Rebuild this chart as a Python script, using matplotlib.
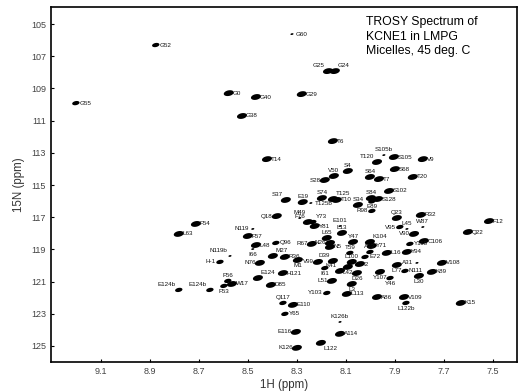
import numpy as np
import matplotlib.pyplot as plt
from matplotlib.path import Path

plt.rcParams['font.family'] = ['Liberation Sans', 'DejaVu Sans']

# assigned cross peaks
labels = ['G52', 'G55', 'G0', 'G40', 'G38', 'G60', 'G25', 'G24', 'G29', 'T14',
          'T6', 'S105b', 'S105', 'T120', 'S68', 'V9', 'T20', 'S4', 'S64', 'T7',
          'V50', 'S28', 'S102', 'S37', 'Q18', 'M49', 'E19', 'S74', 'T125', 'T10',
          'T125b', 'S34', 'S84', 'S128', 'E89', 'R98', 'Q23', 'R32', 'F12', 'Q22',
          'F54', 'L63', 'F57', 'N119', 'L48', 'Q96', 'I66', 'M27', 'R36', 'N119b',
          'H-1', 'N76', 'E124', 'H121', 'F56', 'W17', 'F53', 'E124b', 'E124b', 'D85',
          'Q117', 'E110', 'Y65', 'E116', 'K126', 'L122', 'K126b', 'A114', 'Y103', 'L113',
          'A86', 'V109', 'L122b', 'K15', 'V108', 'K89', 'L30', 'Y94', 'C106', 'V90',
          'W87', 'L45', 'V95', 'A31', 'N111', 'Y115',
          'F76', 'Y73', 'Y81', 'E101', 'L13', 'L65', 'N26', 'R67', 'Y47', 'K104',
          'Y71', 'N5', 'T59', 'A93', 'L16', 'D39', 'L100', 'I2', 'L42', 'K41',
          'E72', 'D26', 'Y107', 'L77', 'V99', 'M1', 'I61', 'L51', 'L3', 'Y46']
h_ppm = [8.876, 9.202, 8.578, 8.467, 8.524, 8.320, 8.173, 8.145, 8.280, 8.422,
         8.153, 7.945, 7.904, 7.973, 7.900, 7.786, 7.827, 8.092, 8.002, 7.965,
         8.149, 8.186, 7.924, 8.345, 8.382, 8.288, 8.276, 8.198, 8.153, 8.137,
         8.243, 8.051, 7.998, 7.969, 7.994, 7.994, 7.892, 7.794, 7.516, 7.602,
         8.712, 8.782, 8.500, 8.480, 8.467, 8.386, 8.480, 8.398, 8.349, 8.573,
         8.614, 8.451, 8.459, 8.357, 8.582, 8.565, 8.598, 8.655, 8.782, 8.406,
         8.357, 8.316, 8.349, 8.304, 8.300, 8.202, 8.124, 8.124, 8.178, 8.096,
         7.973, 7.863, 7.855, 7.631, 7.708, 7.749, 7.802, 7.851, 7.782, 7.822,
         7.786, 7.851, 7.880, 7.810, 7.859, 7.839,
         8.255, 8.235, 8.227, 8.124, 8.116, 8.178, 8.165, 8.239, 8.071, 8.002,
         7.994, 8.165, 8.084, 8.002, 7.933, 8.153, 8.076, 8.043, 8.092, 8.124,
         8.022, 8.055, 7.961, 7.892, 8.214, 8.296, 8.186, 8.157, 8.076, 7.920]
n_ppm = [106.30, 109.91, 109.29, 109.53, 110.71, 105.62, 107.92, 107.92, 109.35, 113.39,
         112.27, 113.14, 113.26, 113.57, 114.01, 113.39, 114.50, 114.13, 114.50, 114.63,
         114.44, 114.69, 115.37, 115.93, 116.93, 117.05, 116.06, 115.81, 115.87, 115.93,
         116.12, 116.24, 115.81, 115.87, 116.02, 116.61, 117.05, 116.86, 117.24, 117.92,
         117.42, 118.04, 118.17, 117.73, 118.73, 118.60, 118.98, 119.41, 119.47, 119.41,
         119.78, 119.84, 120.78, 120.47, 120.96, 121.15, 121.27, 121.52, 121.52, 121.21,
         122.33, 122.45, 123.01, 124.13, 125.12, 124.81, 123.51, 124.25, 121.71, 121.77,
         121.96, 121.96, 122.33, 122.33, 119.84, 120.40, 120.65, 119.16, 118.48, 118.04,
         117.61, 117.73, 117.61, 119.84, 120.34, 118.66,
         117.30, 117.30, 117.55, 117.55, 117.98, 118.29, 118.60, 118.66, 118.54, 118.54,
         118.79, 118.85, 119.22, 119.16, 119.22, 119.72, 119.78, 119.91, 120.09, 120.34,
         119.47, 120.47, 120.40, 119.97, 119.78, 119.66, 120.16, 120.96, 121.15, 120.78]
# peak intensity class: 0 weak, 1 medium, 2 strong
strength = [1, 1, 2, 2, 2, 0, 2, 2, 2, 2,
            2, 0, 2, 2, 2, 2, 2, 2, 2, 2,
            2, 2, 2, 2, 2, 0, 2, 2, 2, 2,
            0, 2, 2, 2, 1, 1, 2, 2, 2, 2,
            2, 2, 2, 0, 2, 1, 0, 2, 2, 0,
            1, 2, 2, 2, 1, 2, 1, 1, 1, 2,
            1, 2, 1, 2, 2, 2, 0, 2, 1, 2,
            2, 2, 1, 2, 2, 2, 2, 2, 2, 2,
            0, 0, 1, 0, 1, 1,
            2, 1, 2, 0, 2, 2, 2, 2, 2, 2,
            2, 2, 1, 1, 2, 2, 2, 2, 2, 2,
            1, 2, 2, 2, 2, 2, 1, 2, 2, 1]

# where each label sits relative to its peak
side = ['r', 'r', 'r', 'r', 'r', 'r', 'al', 'ar', 'r', 'r',
        'r', 'a', 'r', 'al', 'r', 'r', 'r', 'a', 'a', 'r',
        'a', 'l', 'r', 'al', 'l', 'a', 'a', 'a', 'ar', 'r',
        'r', 'a', 'a', 'r', 'b', 'l', 'a', 'r', 'r', 'r',
        'r', 'r', 'r', 'l', 'r', 'r', 'b', 'ar', 'r', 'al',
        'l', 'l', 'ar', 'r', 'a', 'r', 'b', 'al', 'al', 'r',
        'a', 'r', 'r', 'l', 'l', 'br', 'a', 'r', 'l', 'r',
        'r', 'r', 'b', 'r', 'r', 'r', 'b', 'r', 'r', 'l',
        'a', 'a', 'l', 'l', 'r', 'r',
        'al', 'ar', 'r', 'a', 'a', 'a', 'l', 'l', 'a', 'ar',
        'r', 'r', 'a', 'a', 'r', 'al', 'a', 'r', 'b', 'al',
        'r', 'b', 'b', 'b', 'l', 'b', 'b', 'l', 'b', 'b']

# flattened, slightly tilted ellipse used as peak marker
t = np.linspace(0, 2 * np.pi, 40)
a = np.deg2rad(12)
ex, ey = np.cos(t), 0.55 * np.sin(t)
verts = np.column_stack([ex * np.cos(a) - ey * np.sin(a), ex * np.sin(a) + ey * np.cos(a)])
peak_marker = Path(verts, closed=True)

fig = plt.figure(figsize=(5.19, 3.92), dpi=100)
ax = fig.add_axes([0.098, 0.0765, 0.898, 0.9055])

sizes = np.array([5, 28, 52])[np.array(strength)]
ax.scatter(h_ppm, n_ppm, s=sizes, marker=peak_marker, color='black', linewidths=0, zorder=3)

offs = {'r': (4, 0, 'left', 'center'), 'l': (-4, 0, 'right', 'center'),
        'a': (0, 3, 'center', 'bottom'), 'b': (0, -3, 'center', 'top'),
        'ar': (3, 3, 'left', 'bottom'), 'al': (-3, 3, 'right', 'bottom'),
        'br': (3, -3, 'left', 'top')}
for lab, x, y, sd in zip(labels, h_ppm, n_ppm, side):
    dx, dy, ha, va = offs[sd]
    ax.annotate(lab, (x, y), xytext=(dx * 0.72, dy * 0.72), textcoords='offset points',
                ha=ha, va=va, fontsize=4.5, color='#111111', zorder=4)

ax.set_xlim(9.304, 7.402)
ax.set_ylim(126.0, 103.94)
ax.set_xticks([9.1, 8.9, 8.7, 8.5, 8.3, 8.1, 7.9, 7.7, 7.5])
ax.set_yticks([105, 107, 109, 111, 113, 115, 117, 119, 121, 123, 125])
ax.tick_params(direction='in', length=2.5, width=0.8, labelsize=6.5, labelcolor='#444444')
ax.set_xlabel('1H (ppm)', fontsize=8.3, color='#333333', labelpad=2)
ax.set_ylabel('15N (ppm)', fontsize=8.3, color='#333333', labelpad=4)
for sp in ax.spines.values():
    sp.set_linewidth(1.2)

ax.text(0.676, 0.975, 'TROSY Spectrum of\nKCNE1 in LMPG\nMicelles, 45 deg. C',
        transform=ax.transAxes, ha='left', va='top', fontsize=8.8, linespacing=1.3)

plt.savefig('out.png', dpi=100)
